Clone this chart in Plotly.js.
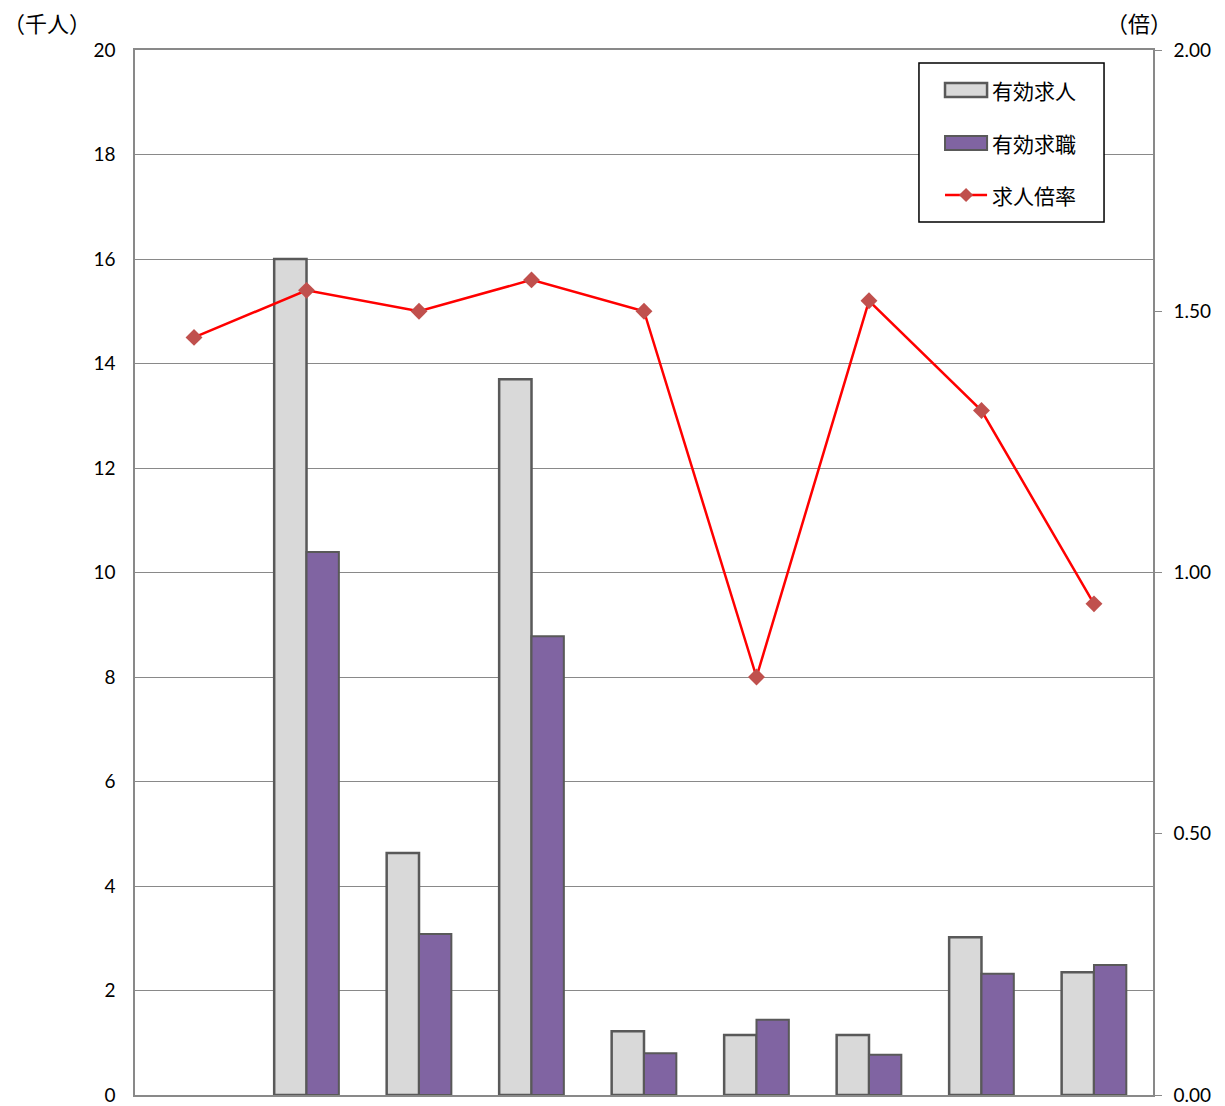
<!DOCTYPE html>
<html>
<head>
<meta charset="utf-8">
<script src="https://cdn.plot.ly/plotly-3.0.1.min.js"></script>
<style>html,body{margin:0;padding:0;background:#fff;}#chart{width:1225px;height:1106px;}</style>
</head>
<body>
<div id="chart"></div>
<script>
const categories = ["計", "区分1", "区分2", "区分3", "区分4", "区分5", "区分6", "区分7", "区分8"];
const jobOffers = [null, 16.0, 4.63, 13.7, 1.22, 1.15, 1.15, 3.02, 2.35];
const jobSeekers = [null, 10.39, 3.08, 8.78, 0.80, 1.44, 0.77, 2.32, 2.49];
const ratio = [1.45, 1.54, 1.50, 1.56, 1.50, 0.80, 1.52, 1.31, 0.94];
const leftTicks = [0, 2, 4, 6, 8, 10, 12, 14, 16, 18, 20];
const rightTicks = [0, 0.5, 1.0, 1.5, 2.0];
const seriesNames = ["有効求人", "有効求職", "求人倍率"];

const tickFont = {family: "Lato, 'Noto Sans', sans-serif", size: 19, color: "#000"};
const cjk = "'Noto Sans CJK JP', sans-serif";
const grayFill = "#d9d9d9", purpleFill = "#8064a2", outline = "#595959";
const lineRed = "#ff0000", markerRed = "#c0504d";

const traces = [
  {type: "bar", name: seriesNames[0], x: categories, y: jobOffers,
   marker: {color: grayFill, line: {color: outline, width: 2.5}}},
  {type: "bar", name: seriesNames[1], x: categories, y: jobSeekers,
   marker: {color: purpleFill, line: {color: outline, width: 2}}},
  {type: "scatter", mode: "lines+markers", name: seriesNames[2], x: categories, y: ratio, yaxis: "y2",
   line: {color: lineRed, width: 2.5},
   marker: {symbol: "diamond", size: 13, color: markerRed}}
];

// custom legend (paper coordinates)
const L = {x0: 0.7701, x1: 0.9519, y0: 0.8354, y1: 0.9876, sx0: 0.7957, sx1: 0.8370, tx: 0.8400,
  rows: [0.9617, 0.9110, 0.8612], half: 0.0067};
const shapes = [
  {type: "rect", xref: "paper", yref: "paper", x0: L.x0, x1: L.x1, y0: L.y0, y1: L.y1,
   line: {color: "#000", width: 1.5}, fillcolor: "#fff", layer: "above"},
  {type: "rect", xref: "paper", yref: "paper", x0: L.sx0, x1: L.sx1, y0: L.rows[0] - L.half, y1: L.rows[0] + L.half,
   line: {color: outline, width: 2.5}, fillcolor: grayFill, layer: "above"},
  {type: "rect", xref: "paper", yref: "paper", x0: L.sx0, x1: L.sx1, y0: L.rows[1] - L.half, y1: L.rows[1] + L.half,
   line: {color: outline, width: 2}, fillcolor: purpleFill, layer: "above"},
  {type: "line", xref: "paper", yref: "paper", x0: L.sx0, x1: L.sx1, y0: L.rows[2], y1: L.rows[2],
   line: {color: lineRed, width: 2.5}, layer: "above"}
];
const cx = (L.sx0 + L.sx1) / 2, dx = 0.0069, dy = 0.0067;
shapes.push({type: "path", xref: "paper", yref: "paper",
  path: `M ${cx - dx} ${L.rows[2]} L ${cx} ${L.rows[2] + dy} L ${cx + dx} ${L.rows[2]} L ${cx} ${L.rows[2] - dy} Z`,
  fillcolor: markerRed, line: {color: markerRed, width: 0}, layer: "above"});

const annotations = [
  {text: "（千人）", xref: "paper", yref: "paper", x: -0.133, y: 1.0, xanchor: "left", yanchor: "bottom",
   xshift: 1, yshift: 10, showarrow: false, font: {family: cjk, size: 22, color: "#000"}},
  {text: "（倍）", xref: "paper", yref: "paper", x: 1.007, y: 1.0, xanchor: "right", yanchor: "bottom",
   xshift: 14, yshift: 10, showarrow: false, font: {family: cjk, size: 22, color: "#000"}}
];
seriesNames.forEach((n, i) => annotations.push({text: n, xref: "paper", yref: "paper", x: L.tx, y: L.rows[i],
  xanchor: "left", yanchor: "middle", showarrow: false, font: {family: cjk, size: 21, color: "#000"}}));

const layout = {
  width: 1225, height: 1106,
  margin: {l: 135, r: 72, t: 50, b: 11},
  paper_bgcolor: "#fff", plot_bgcolor: "#fff",
  barmode: "group", bargap: 0.425, bargroupgap: 0,
  showlegend: false,
  xaxis: {type: "category", showticklabels: false, ticks: "", showgrid: false,
    showline: true, mirror: true, linecolor: "#898989", linewidth: 1.5, zeroline: false},
  yaxis: {range: [0, 20], tickvals: leftTicks, ticks: "", showgrid: true, gridcolor: "#898989", gridwidth: 1,
    showline: true, linecolor: "#898989", linewidth: 1.5, zeroline: false, tickfont: tickFont, ticklabelstandoff: 14},
  yaxis2: {range: [0, 2], tickvals: rightTicks, tickformat: ".2f", overlaying: "y", side: "right",
    ticks: "outside", ticklen: 7, tickcolor: "#898989", showgrid: false,
    showline: true, linecolor: "#898989", linewidth: 1.5, zeroline: false, tickfont: tickFont, ticklabelstandoff: 8},
  shapes: shapes,
  annotations: annotations
};

Plotly.newPlot("chart", traces, layout, {displayModeBar: false});
</script>
</body>
</html>
